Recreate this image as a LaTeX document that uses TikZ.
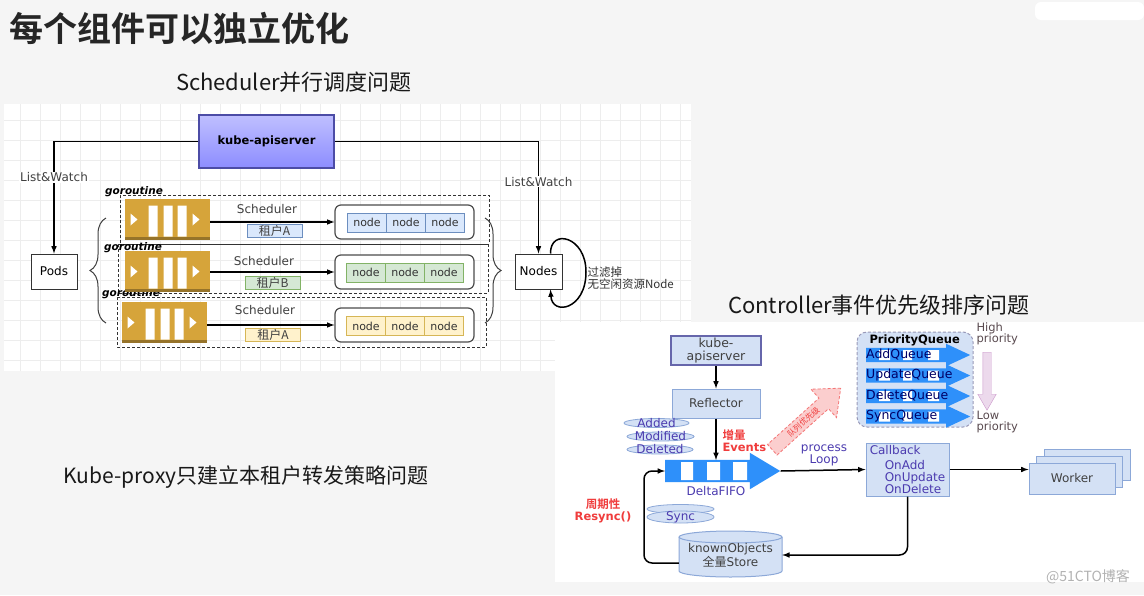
\documentclass[tikz,border=0pt]{standalone}
\usepackage{fontspec}
\setmainfont{DejaVu Sans}
\newfontfamily\cjk{Noto Sans CJK SC}[BoldFont={Noto Sans CJK SC Bold}]
\usepackage{tikz}
\usetikzlibrary{arrows,calc,shapes.arrows,shapes.geometric,decorations.pathreplacing}
\definecolor{gold}{HTML}{D6A43A}
\definecolor{blueF}{HTML}{DAE8FC}
\definecolor{blueD}{HTML}{6C8EBF}
\definecolor{greenF}{HTML}{D5E8D4}
\definecolor{greenD}{HTML}{82B366}
\definecolor{yellowF}{HTML}{FFF2CC}
\definecolor{yellowD}{HTML}{D6B656}
\definecolor{lboxF}{HTML}{D4E1F5}
\definecolor{lboxD}{HTML}{8CA8D8}
\definecolor{qblue}{HTML}{2E90FA}
\definecolor{evtblue}{HTML}{4B3BAF}
\definecolor{alarm}{HTML}{F03C3C}
\definecolor{priotext}{HTML}{5A4B50}

\begin{document}
\begin{tikzpicture}%
        [x=1pt, y=-1pt,
        link/.style={color=black, line width=1.5pt, -latex},
        grp/.style={densely dashed, line width=1pt, black!80},
        brace/.style={decorate, decoration={brace, amplitude=16pt}, line width=1pt, black!75},
        plain/.style={draw=black!80, fill=white, line width=1pt, inner sep=0pt, font=\fontsize{12}{12}\selectfont},
        apibox/.style={draw=blue!50!black!70, line width=1.5pt, top color=blue!25, bottom color=blue!45!white, inner sep=0pt, font=\bfseries\fontsize{11.5}{12}\selectfont},
        queue/.style={fill=gold, minimum width=85pt, minimum height=41pt, inner sep=0pt,
            path picture={
                \fill[gold!70!black] ([yshift=3pt]path picture bounding box.south west) rectangle (path picture bounding box.south east);
                \fill[white, shift={(path picture bounding box.center)}]
                    (-37,-6) -- (-37,6) -- (-30,0) -- cycle
                    (-19,-14) rectangle (-10,17)
                    (-4,-14) rectangle (5,17)
                    (10,-14) rectangle (19,17)
                    (25,-6) -- (25,6) -- (32,0) -- cycle;}},
        ngroup/.style={draw=black!70, line width=1.2pt, rounded corners=6pt, fill=white, minimum width=139pt, minimum height=34pt},
        cell/.style={draw=#1D, fill=#1F, line width=1pt, minimum width=39pt, minimum height=19pt, inner sep=0pt, text=black!80, font=\fontsize{11}{12}\selectfont},
        tenant/.style={draw=#1D, fill=#1F, line width=1pt, minimum width=55pt, minimum height=13pt, inner sep=0pt, text=black!75, font=\cjk\fontsize{12}{12}\selectfont},
        small/.style={text=black!75, font=\fontsize{12}{12}\selectfont},
        gor/.style={font=\bfseries\itshape\fontsize{10.5}{11}\selectfont},
        lbox/.style={draw=lboxD, fill=lboxF, line width=1pt, inner sep=1pt, text=black!75, font=\fontsize{12}{12}\selectfont},
        evt/.style={ellipse, draw=lboxD, fill=lboxF, line width=0.8pt, inner sep=0pt},
        evttext/.style={text=evtblue, font=\fontsize{12}{12}\selectfont},
        alarmtext/.style={text=alarm, align=center, font=\bfseries\fontsize{11.5}{12}\selectfont},
        pqueue/.style={single arrow, fill=qblue, minimum height=104pt, inner sep=7pt, single arrow head extend=4pt, single arrow tip angle=50, anchor=tail},
        qtext/.style={anchor=west, inner sep=0pt, text=blue!40!black, font=\fontsize{12.5}{12}\selectfont},
        prio/.style={anchor=west, align=left, text=priotext, font=\fontsize{11.5}{11.5}\selectfont}]
    %
    %% Page and the two diagram panels
    \useasboundingbox (0,0) rectangle (1144,595);
    \fill[black!4] (0,0) rectangle (1144,595);
    \fill[white, rounded corners=6pt] (1035,2) rectangle (1144,20);
    \fill[white] (4,104) rectangle (691,371);
    \draw[black!7, step=20pt] (4,104) grid (691,371);
    \fill[white] (555,322) rectangle (1144,582);
    %
    %% Titles
    \node[anchor=west, font=\cjk\bfseries\fontsize{34}{36}\selectfont, text=black!85] (title) at (6,28) {每个组件可以独立优化};
    \node[font=\cjk\fontsize{22}{24}\selectfont, text=black!90] (schedtitle) at (294,82) {Scheduler并行调度问题};
    \node[font=\cjk\fontsize{21}{24}\selectfont, text=black!90] (proxytitle) at (246,477) {Kube-proxy只建立本租户转发策略问题};
    \node[font=\cjk\fontsize{22}{24}\selectfont, text=black!90] (ctrltitle) at (879,305) {Controller事件优先级排序问题};
    %
    %% Scheduler: apiserver, Pods and Nodes
    \node[apibox, minimum width=135pt, minimum height=53pt] (api) at (266.5,141.5) {kube-apiserver};
    \node[plain, minimum width=46pt, minimum height=35pt] (pods) at (54,271.5) {Pods};
    \node[plain, minimum width=47pt, minimum height=35pt] (nodes) at (538.5,271.5) {Nodes};
    \draw[link] (api.west) -| (pods.north) node[pos=0.66, small, fill=white, inner sep=1pt] (lwleft) {List\&Watch};
    \draw[link] (api.east) -| (nodes.north) node[pos=0.68, small, fill=white, inner sep=1pt] (lwright) {List\&Watch};
    \draw[link] ([xshift=-12pt]nodes.north east) .. controls (550,228) and (586,236) .. (586,272) .. controls (586,310) and (552,316) .. ([xshift=-12pt]nodes.south east);
    \node[anchor=west, align=left, text=black!80, font=\cjk\fontsize{11.5}{12}\selectfont] (filter) at (584,278) {过滤掉\\无空闲资源Node};
    %
    %% goroutine groups
    \draw[grp] (120,195) rectangle (489,244);
    \draw[grp] (118,244) rectangle (488,293);
    \draw[grp] (117,297) rectangle (486,347);
    \draw[brace] (106,323) -- (106,218);
    \draw[brace] (485,218) -- (485,323);
    \node[gor] (gor1) at (134,192) {goroutine};
    \node[gor] (gor2) at (133,248) {goroutine};
    \node[gor] (gor3) at (131,294) {goroutine};
    %
    %% tenant A
    \node[queue] (q1) at (167.5,219.5) {};
    \node[ngroup] (ng1) at (404.5,222) {};
    \node[cell=blue] (n11) at (367,222.5) {node};
    \node[cell=blue] (n12) at (406,222.5) {node};
    \node[cell=blue] (n13) at (445,222.5) {node};
    \draw[link] (q1.east |- ng1.west) -- (ng1.west);
    \node[small] (sched1) at (267,209) {Scheduler};
    \node[tenant=blue] (t1) at (274.5,230.5) {租户A};
    %
    %% tenant B
    \node[queue] (q2) at (167.5,271.5) {};
    \node[ngroup] (ng2) at (404.5,272) {};
    \node[cell=green] (n21) at (366,272.5) {node};
    \node[cell=green] (n22) at (405,272.5) {node};
    \node[cell=green] (n23) at (444,272.5) {node};
    \node[tenant=green] (t2) at (272.5,282.5) {租户B};
    \draw[link] (q2.east |- ng2.west) -- (ng2.west);
    \node[small] (sched2) at (264,261) {Scheduler};
    %
    %% tenant A again
    \node[queue] (q3) at (164.5,322.5) {};
    \node[ngroup] (ng3) at (404.5,325) {};
    \node[cell=yellow] (n31) at (366,326) {node};
    \node[cell=yellow] (n32) at (405,326) {node};
    \node[cell=yellow] (n33) at (444,326) {node};
    \draw[link] (q3.east |- ng3.west) -- (ng3.west);
    \node[small] (sched3) at (265,310) {Scheduler};
    \node[tenant=yellow] (t3) at (273,334.5) {租户A};
    %
    %% Controller: informer side
    \node[lbox, draw=blue!45!black!60, line width=2pt, minimum width=90pt, minimum height=29pt, align=center, font=\fontsize{12.5}{12.5}\selectfont] (api2) at (716,350.5) {kube-\\apiserver};
    \node[lbox, minimum width=88pt, minimum height=29pt] (refl) at (716,403.5) {Reflector};
    \node[single arrow, fill=qblue, minimum height=115pt, inner sep=11pt, single arrow head extend=7pt, single arrow tip angle=62, anchor=tail] (fifo) at (665,471) {};
    \fill[white] ($(fifo.tail)+(16,-9)$) rectangle ($(fifo.tail)+(28,9)$)
                 ($(fifo.tail)+(42,-9)$) rectangle ($(fifo.tail)+(55,9)$)
                 ($(fifo.tail)+(68,-9)$) rectangle ($(fifo.tail)+(82,9)$);
    \coordinate (fifotop) at (716,460);
    \node[evttext] (fifolabel) at (716,491) {DeltaFIFO};
    \draw[link] (api2.south) -- (refl.north);
    \draw[link] (refl.south) -- (fifotop);
    \node[anchor=west, align=left, text=alarm, font=\bfseries\fontsize{11.5}{12}\selectfont] (delta) at (719,441) {\cjk 增量\\Events};
    \node[evt, minimum width=65pt, minimum height=9pt, label={[evttext]center:Added}] (added) at (656.5,423) {};
    \node[evt, minimum width=67pt, minimum height=9pt, label={[evttext]center:Modified}] (modified) at (660.5,436.5) {};
    \node[evt, minimum width=66pt, minimum height=9pt, label={[evttext]center:Deleted}] (deleted) at (660,449.5) {};
    %
    %% priority hint
    \node[single arrow, draw=alarm!70, densely dashed, line width=0.8pt, fill=alarm!25, anchor=tail, rotate=42, minimum height=92pt, inner sep=3pt,
        single arrow head extend=12pt, single arrow tip angle=80, text=alarm, font=\cjk\fontsize{8}{8}\selectfont] (hint) at (772,450) {队列优先级};
    \draw[densely dashed, line width=1pt, draw=blue!30!black!40, fill=lboxF, rounded corners=10pt] (857,332) rectangle (973,427);
    \node[anchor=west, font=\bfseries\fontsize{11.5}{12}\selectfont] (pqtitle) at (866,340) {PriorityQueue};
    \node[pqueue] (addq) at (866,355) {};
    \node[pqueue] (updq) at (866,375.5) {};
    \node[pqueue] (delq) at (866,396) {};
    \node[pqueue] (syncq) at (866,416.5) {};
    \foreach \q in {addq,updq,delq,syncq}
        \fill[white] ($(\q.tail)+(13,-5)$) rectangle ($(\q.tail)+(24,5)$)
                     ($(\q.tail)+(37,-5)$) rectangle ($(\q.tail)+(46,5)$)
                     ($(\q.tail)+(62,-5)$) rectangle ($(\q.tail)+(73,5)$);
    \node[qtext] (addqt) at (addq.tail) {AddQueue};
    \node[qtext] (updqt) at (updq.tail) {UpdateQueue};
    \node[qtext] (delqt) at (delq.tail) {DeleteQueue};
    \node[qtext] (syncqt) at (syncq.tail) {SyncQueue};
    \node[prio] (high) at (973,334) {High\\priority};
    \node[single arrow, shape border rotate=270, draw=violet!40, fill=violet!15, minimum height=58pt, inner sep=4pt,
        single arrow head extend=5pt, single arrow tip angle=60, anchor=tail] (down) at (987,352) {};
    \node[prio] (low) at (973,422) {Low\\priority};
    %
    %% processing loop
    \node[lbox, minimum width=83pt, minimum height=53pt, align=left, text=evtblue, font=\fontsize{12}{11.5}\selectfont] (cb) at (907.5,469.5)
        {Callback\\[4pt]\hspace*{15pt}OnAdd\\\hspace*{15pt}OnUpdate\\\hspace*{15pt}OnDelete};
    \draw[link] (fifo.tip) -- (cb.west);
    \node[evttext, align=center, font=\fontsize{12}{12}\selectfont] (loop) at (824,455) {process\\Loop};
    \node[lbox, minimum width=86pt, minimum height=31pt] (wk3) at (1087.5,464.5) {};
    \node[lbox, minimum width=86pt, minimum height=31pt] (wk2) at (1079,471.5) {};
    \node[lbox, minimum width=86pt, minimum height=31pt] (wk1) at (1072,478.5) {Worker};
    \draw[link] (cb.east) -- (cb.east -| wk1.west);
    %
    %% store and resync
    \draw[draw=lboxD, fill=lboxF, line width=1pt] (679,537) -- (679,571) arc[start angle=180, end angle=360, x radius=51.5pt, y radius=6pt] -- (782,537);
    \draw[draw=lboxD, fill=lboxF, line width=1pt] (730.5,537) ellipse [x radius=51.5pt, y radius=6pt];
    \node[minimum width=103pt, minimum height=46pt, align=center, text=black!75, font=\fontsize{12}{12}\selectfont] (store) at (730.5,555) {knownObjects\\{\cjk 全量}Store};
    \draw[link, rounded corners=8pt] (cb.south) |- (store.east);
    \draw[link, rounded corners=8pt] ([yshift=-8pt]store.west) -| ($(fifo.tail)+(-21,0)$) -- (fifo.tail);
    \node[alarmtext] (resync) at (603,511) {\cjk 周期性\\Resync()};
    \draw[draw=lboxD, fill=lboxF, line width=0.8pt] (680.5,509) ellipse [x radius=33.5pt, y radius=4.5pt];
    \node[evt, minimum width=67pt, minimum height=12pt, label={[evttext]center:Sync}] (sync) at (680.5,517) {};
    %
    \node[text=black!30, font=\cjk\fontsize{14}{14}\selectfont] (mark) at (1088,577) {@51CTO博客};
\end{tikzpicture}
\end{document}
